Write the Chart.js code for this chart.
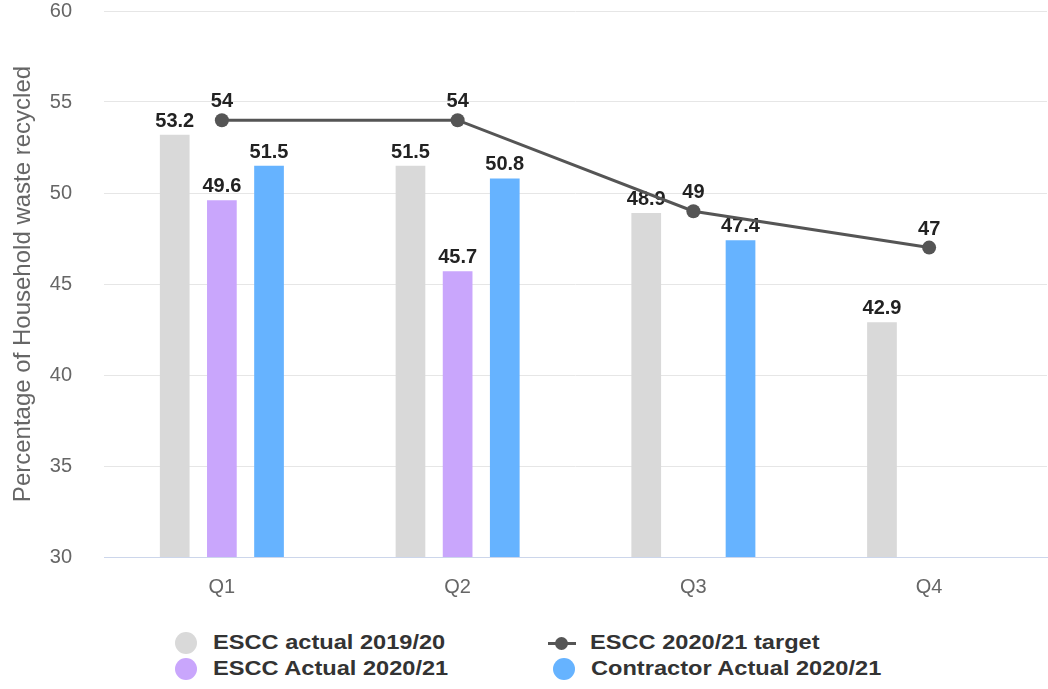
<!DOCTYPE html>
<html>
<head>
<meta charset="utf-8">
<script src="https://cdn.jsdelivr.net/npm/chart.js@4"></script>
<style>
  html, body { margin: 0; padding: 0; background: #fff; overflow: hidden; }
  #wrap { position: relative; width: 1054px; height: 689px; }
  #chartBox { position: absolute; left: 0; top: 0; width: 1054px; height: 617px; }
  .leg { position: absolute; font: bold 20px "Liberation Sans", Arial, sans-serif; color: #333; white-space: nowrap; transform: scaleX(1.18); transform-origin: left center; }
  .dot { position: absolute; width: 22px; height: 22px; border-radius: 50%; }
</style>
</head>
<body>
<div id="wrap">
  <div id="chartBox"><canvas id="myChart"></canvas></div>
  <div id="legend"></div>
</div>
<script>
const quarters = ["Q1", "Q2", "Q3", "Q4"];
const actual1920 = [53.2, 51.5, 48.9, 42.9];
const actual2021 = [49.6, 45.7, null, null];
const contractor2021 = [51.5, 50.8, 47.4, null];
const target2021 = [54, 54, 49, 47];
const yTicks = [30, 35, 40, 45, 50, 55, 60];

const seriesNames = ["ESCC actual 2019/20", "ESCC 2020/21 target", "ESCC Actual 2020/21", "Contractor Actual 2020/21"];

const labelFont = 'bold 20px "Liberation Sans", Arial, sans-serif';
const fontFamily = "'Liberation Sans', Arial, sans-serif";

// draws values above bars and line points
const valueLabels = {
  id: "valueLabels",
  afterDatasetDraw(chart, args) {
    const meta = args.meta;
    if (meta.type !== "bar") return;
    const ctx = chart.ctx;
    const data = chart.data.datasets[args.index].data;
    ctx.save();
    ctx.font = labelFont;
    ctx.fillStyle = "#222";
    ctx.textAlign = "center";
    ctx.textBaseline = "alphabetic";
    meta.data.forEach((el, i) => {
      if (data[i] == null) return;
      ctx.fillText(String(data[i]), el.x, el.y - 8);
    });
    ctx.restore();
  },
  afterDatasetsDraw(chart) {
    const ctx = chart.ctx;
    chart.data.datasets.forEach((ds, di) => {
      if (ds.type !== "line") return;
      const meta = chart.getDatasetMeta(di);
      ctx.save();
      ctx.font = labelFont;
      ctx.fillStyle = "#222";
      ctx.textAlign = "center";
      ctx.textBaseline = "alphabetic";
      meta.data.forEach((el, i) => {
        if (ds.data[i] == null) return;
        ctx.fillText(String(ds.data[i]), el.x, el.y - 13);
      });
      ctx.restore();
    });
  }
};

const ctx = document.getElementById("myChart").getContext("2d");
const myChart = new Chart(ctx, {
  type: "bar",
  data: {
    labels: quarters,
    datasets: [
      {
        type: "line",
        label: seriesNames[1],
        data: target2021,
        borderColor: "#555555",
        backgroundColor: "#555555",
        borderWidth: 3,
        pointRadius: 7,
        pointBackgroundColor: "#555555",
        pointBorderWidth: 0,
        tension: 0
      },
      {
        label: seriesNames[0],
        data: actual1920,
        backgroundColor: "#d9d9d9"
      },
      {
        label: seriesNames[2],
        data: actual2021,
        backgroundColor: "#c9a6fc"
      },
      {
        label: seriesNames[3],
        data: contractor2021,
        backgroundColor: "#66b3ff"
      }
    ]
  },
  options: {
    responsive: true,
    maintainAspectRatio: false,
    animation: false,
    datasets: {
      bar: { categoryPercentage: 0.6, barPercentage: 0.63 }
    },
    layout: { padding: { left: 0, top: 1, right: 0, bottom: 0 } },
    plugins: {
      legend: { display: false },
      tooltip: { enabled: false }
    },
    scales: {
      x: {
        grid: { display: false, drawTicks: false },
        border: { color: "#ccd6eb", width: 1 },
        ticks: {
          color: "#666",
          padding: 18,
          font: { family: fontFamily, size: 20 }
        },
        afterFit: (scale) => {
          scale.paddingLeft = 0;
          scale.paddingRight = 0;
        }
      },
      y: {
        min: 30,
        max: 60,
        afterBuildTicks: (scale) => {
          scale.ticks = yTicks.map((v) => ({ value: v }));
        },
        afterFit: (scale) => {
          scale.width = 104;
          scale.paddingTop = 11;
          scale.paddingBottom = 11;
        },
        grid: {
          color: (c) => (c.tick && c.tick.value === 30 ? "rgba(0,0,0,0)" : "#e6e6e6"),
          drawTicks: false
        },
        border: { display: false },
        ticks: {
          color: "#666",
          padding: 32,
          font: { family: fontFamily, size: 20 }
        },
        title: {
          display: true,
          text: "Percentage of Household waste recycled",
          color: "#666",
          padding: { top: 9, bottom: 0 },
          font: { family: fontFamily, size: 24 }
        }
      }
    }
  },
  plugins: [valueLabels]
});

// legend laid out in two columns like the original
const legendItems = [
  { name: seriesNames[0], color: "#d9d9d9", kind: "dot", x: 175, y: 632 },
  { name: seriesNames[1], color: "#555555", kind: "line", x: 548, y: 632 },
  { name: seriesNames[2], color: "#c9a6fc", kind: "dot", x: 175, y: 658 },
  { name: seriesNames[3], color: "#66b3ff", kind: "dot", x: 553, y: 658 }
];
const legendEl = document.getElementById("legend");
legendItems.forEach((it) => {
  if (it.kind === "dot") {
    const d = document.createElement("div");
    d.className = "dot";
    d.style.left = it.x + "px";
    d.style.top = it.y + "px";
    d.style.background = it.color;
    legendEl.appendChild(d);
  } else {
    const l = document.createElement("div");
    l.style.cssText = "position:absolute;left:" + it.x + "px;top:" + (it.y + 10) + "px;width:28px;height:3px;background:" + it.color;
    legendEl.appendChild(l);
    const p = document.createElement("div");
    p.style.cssText = "position:absolute;left:" + (it.x + 7) + "px;top:" + (it.y + 5) + "px;width:13px;height:13px;border-radius:50%;background:" + it.color;
    legendEl.appendChild(p);
  }
  const t = document.createElement("div");
  t.className = "leg";
  t.style.left = (it.kind === "dot" ? it.x + 38 : it.x + 42) + "px";
  t.style.top = (it.y - 1) + "px";
  t.textContent = it.name;
  legendEl.appendChild(t);
});
</script>
</body>
</html>
